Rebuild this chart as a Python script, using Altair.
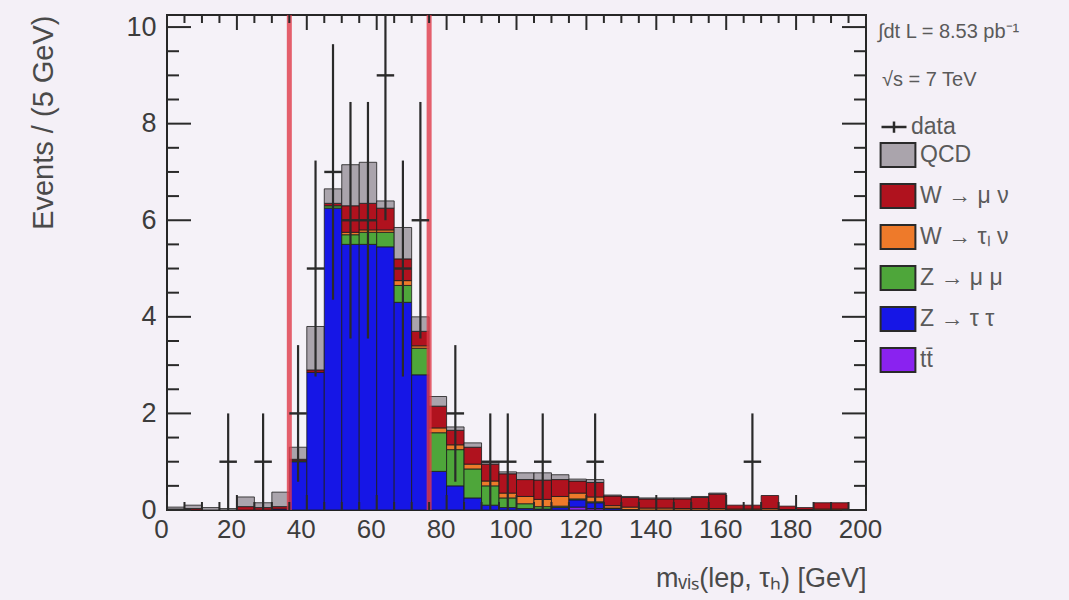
import altair as alt
import numpy as np
import pandas as pd

# 5 GeV bins from 0 to 200 GeV
bin_lo = list(range(0, 200, 5))
bin_w = 5

# Expected yields per bin, one list per process
qcd = [0.04, 0.07, 0.05, 0.03, 0.20, 0.10, 0.30, 0.25, 0.90, 0.30,
       0.85, 0.85, 0.15, 0.65, 0.30, 0.20, 0.07, 0.09, 0.04, 0.04,
       0.14, 0.15, 0.10, 0.04, 0.06, 0.02, 0.02, 0.02, 0.02, 0.02,
       0.02, 0.02, 0.00, 0.00, 0.00, 0.00, 0.00, 0.00, 0.00, 0.00]
w_munu = [0.02, 0.03, 0.00, 0.00, 0.07, 0.05, 0.05, 0.03, 0.05, 0.05,
          0.55, 0.55, 0.45, 0.45, 0.30, 0.45, 0.30, 0.35, 0.35, 0.40,
          0.35, 0.40, 0.35, 0.25, 0.30, 0.20, 0.20, 0.19, 0.19, 0.20,
          0.23, 0.30, 0.08, 0.08, 0.27, 0.07, 0.04, 0.13, 0.13, 0.00]
w_taunu = [0.00, 0.00, 0.00, 0.00, 0.00, 0.00, 0.00, 0.00, 0.00, 0.00,
           0.05, 0.05, 0.05, 0.10, 0.05, 0.10, 0.10, 0.10, 0.10, 0.10,
           0.15, 0.15, 0.20, 0.12, 0.10, 0.05, 0.05, 0.04, 0.04, 0.03,
           0.03, 0.03, 0.02, 0.02, 0.03, 0.01, 0.01, 0.02, 0.02, 0.00]
z_mumu = [0.00, 0.00, 0.00, 0.00, 0.00, 0.00, 0.00, 0.02, 0.00, 0.05,
          0.20, 0.25, 0.30, 0.35, 0.55, 0.80, 0.75, 0.60, 0.40, 0.20,
          0.10, 0.05, 0.03, 0.02, 0.02, 0.01, 0.01, 0.00, 0.00, 0.00,
          0.00, 0.00, 0.00, 0.00, 0.00, 0.00, 0.00, 0.00, 0.00, 0.00]
z_tautau = [0.00, 0.00, 0.00, 0.00, 0.00, 0.00, 0.02, 1.00, 2.85, 6.25,
            5.50, 5.50, 5.45, 4.30, 2.80, 0.80, 0.50, 0.25, 0.10, 0.05,
            0.03, 0.02, 0.05, 0.15, 0.12, 0.03, 0.00, 0.00, 0.00, 0.00,
            0.00, 0.00, 0.00, 0.00, 0.00, 0.00, 0.00, 0.00, 0.00, 0.00]
ttbar = [0.00, 0.00, 0.00, 0.00, 0.00, 0.00, 0.00, 0.00, 0.00, 0.00,
         0.00, 0.00, 0.00, 0.00, 0.00, 0.00, 0.00, 0.00, 0.00, 0.00,
         0.00, 0.00, 0.00, 0.06, 0.03, 0.00, 0.00, 0.00, 0.00, 0.00,
         0.00, 0.00, 0.00, 0.00, 0.00, 0.00, 0.00, 0.00, 0.00, 0.00]

# Observed events per bin
data_counts = [0, 0, 0, 1, 0, 1, 0, 2, 5, 7,
               6, 6, 9, 5, 6, 0, 2, 0, 1, 1,
               0, 1, 0, 0, 1, 0, 0, 0, 0, 0,
               0, 0, 0, 1, 0, 0, 0, 0, 0, 0]

# Selection window edges (GeV)
cuts = [35, 75]

# Legend entries, top to bottom, and their fill colours
legend_names = ["QCD", "W → μ ν", "W → τₗ ν", "Z → μ μ", "Z → τ τ", "tt̄"]
legend_colors = ["#aaa4ac", "#b0121e", "#ee7a2a", "#4ea63a", "#1616e6", "#8a22f0"]

# Axis tick positions
x_major = list(range(0, 201, 20))
x_minor = [v for v in range(0, 201, 5) if v % 20]
y_major = [0, 2, 4, 6, 8, 10]
y_minor = [v / 2 for v in range(0, 21) if v % 4]

W, H = 699, 495
XMAX, YMAX = 200, 10.25
FONT = "Liberation Sans"
TEXT_GREY = "#5a5a5a"

# Stacked histogram table, bottom component first
stack_order = [("tt̄", ttbar), ("Z → τ τ", z_tautau), ("Z → μ μ", z_mumu),
               ("W → τₗ ν", w_taunu), ("W → μ ν", w_munu), ("QCD", qcd)]
rows = []
for i, lo in enumerate(bin_lo):
    base = 0.0
    for name, vals in stack_order:
        v = vals[i]
        if v > 0:
            rows.append({"lo": lo, "hi": lo + bin_w, "proc": name,
                         "y0": base, "y1": base + v})
        base += v
stack_df = pd.DataFrame(rows)

# Data points with sqrt(N) uncertainties
pts = [(lo, n) for lo, n in zip(bin_lo, data_counts) if n > 0]
data_df = pd.DataFrame({
    "lo": [p[0] for p in pts],
    "hi": [p[0] + bin_w for p in pts],
    "c": [p[0] + bin_w / 2 for p in pts],
    "n": [p[1] for p in pts],
})
data_df["elo"] = data_df["n"] - np.sqrt(data_df["n"])
data_df["ehi"] = np.minimum(data_df["n"] + np.sqrt(data_df["n"]), YMAX)
data_df["lab"] = "data"

xscale = alt.Scale(domain=[0, XMAX], nice=False, zero=False)
yscale = alt.Scale(domain=[0, YMAX], nice=False, zero=False)

# One axis definition shared by every layer so the merged axes stay intact
x_axis = alt.Axis(values=x_major, title="mᵥᵢₛ(lep, τₕ)  [GeV]",
                  titleAnchor="end", titleAlign="right", titleX=W, titleY=76,
                  titleBaseline="alphabetic", labelPadding=6,
                  labelFlush=False, labelOverlap=False, labelOffset=-6,
                  labelFontSize=26)
y_axis = alt.Axis(values=y_major, title="Events / (5 GeV)",
                  titleAngle=270, titleAlign="right", titleBaseline="middle",
                  titleX=-124, titleY=0, labelPadding=11, titleFontSize=29,
                  labelOverlap=False)


def X(field):
    return alt.X(field, scale=xscale, axis=x_axis)


def Y(field):
    return alt.Y(field, scale=yscale, axis=y_axis)


bars = alt.Chart(stack_df).mark_bar(
    stroke="#1c1c1c", strokeWidth=1, strokeOpacity=0.8
).encode(
    x=X("lo:Q"), x2="hi:Q",
    y=Y("y0:Q"), y2="y1:Q",
    fill=alt.Fill("proc:N", scale=alt.Scale(domain=legend_names, range=legend_colors),
                  legend=alt.Legend(
                      orient="none", legendX=718, legendY=127, title=None,
                      symbolType="M-1.45,-1H1.45V1H-1.45Z", symbolSize=576,
                      symbolStrokeColor="#2a2a2a", symbolStrokeWidth=2,
                      symbolOpacity=1, labelOffset=9, rowPadding=9, padding=0,
                      labelFontSize=23, labelColor=TEXT_GREY, labelFont=FONT,
                      labelLimit=200)),
)

cut_lines = alt.Chart(pd.DataFrame({"cut": cuts})).mark_rule(
    color="#e03a48", strokeWidth=5, opacity=0.8
).encode(
    x=X("cut:Q"),
    y=alt.value(0), y2=alt.value(H),
)

stroke_enc = alt.Stroke("lab:N", scale=alt.Scale(domain=["data"], range=["#2a2a2a"]),
                        legend=alt.Legend(
                            orient="none", legendX=713, legendY=98, title=None,
                            symbolType="M-1,0H1M0,-0.45V0.45", symbolSize=625,
                            symbolStrokeWidth=2.5, labelOffset=3, padding=0,
                            labelFontSize=23, labelColor=TEXT_GREY, labelFont=FONT))

err_v = alt.Chart(data_df).mark_rule(strokeWidth=2.2, clip=True).encode(
    x=X("c:Q"), y=Y("elo:Q"), y2="ehi:Q", stroke=stroke_enc,
)
err_h = alt.Chart(data_df).mark_rule(strokeWidth=2.4).encode(
    x=X("lo:Q"), x2="hi:Q", y=Y("n:Q"), stroke=stroke_enc,
)

# Inward frame ticks on all four sides
tick_color = "#2a2a2a"


def yticks(vals, length):
    df = pd.DataFrame({"v": vals})
    left = alt.Chart(df).mark_rule(color=tick_color, strokeWidth=2).encode(
        y=Y("v:Q"), x=alt.value(0), x2=alt.value(length))
    right = alt.Chart(df).mark_rule(color=tick_color, strokeWidth=2).encode(
        y=Y("v:Q"), x=alt.value(W), x2=alt.value(W - length))
    return [left, right]


def xticks(vals, length):
    df = pd.DataFrame({"v": vals})
    bottom = alt.Chart(df).mark_rule(color=tick_color, strokeWidth=2).encode(
        x=X("v:Q"), y=alt.value(H), y2=alt.value(H - length))
    top = alt.Chart(df).mark_rule(color=tick_color, strokeWidth=2).encode(
        x=X("v:Q"), y=alt.value(0), y2=alt.value(length))
    return [bottom, top]


ticks = yticks(y_major, 24) + yticks(y_minor, 12) + xticks(x_major, 15) + xticks(x_minor, 8)

lumi = alt.Chart(pd.DataFrame({"t": ["∫dt L = 8.53 pb⁻¹"]})).mark_text(
    align="left", baseline="middle", fontSize=20, font=FONT, color=TEXT_GREY
).encode(text="t:N", x=alt.value(711), y=alt.value(17))
energy = alt.Chart(pd.DataFrame({"t": ["√s = 7 TeV"]})).mark_text(
    align="left", baseline="middle", fontSize=20, font=FONT, color=TEXT_GREY
).encode(text="t:N", x=alt.value(715), y=alt.value(65))

chart = alt.layer(bars, cut_lines, err_v, err_h, *ticks, lumi, energy).properties(
    width=W, height=H,
    autosize=alt.AutoSizeParams(type="none"),
    padding={"left": 167, "top": 15, "right": 1069 - 167 - W, "bottom": 600 - 15 - H},
    background="#f4f0f7",
).configure_view(
    stroke="#262626", strokeWidth=2, fill="#f5f2f8"
).configure_axis(
    domain=False, ticks=False, grid=False,
    labelFont=FONT, labelFontSize=27, labelColor="#3c3c3c",
    titleFont=FONT, titleFontSize=27, titleColor="#4a4a4a", titleFontWeight="normal",
)

chart.save("out.html", embed_options={"renderer": "svg", "actions": False})
